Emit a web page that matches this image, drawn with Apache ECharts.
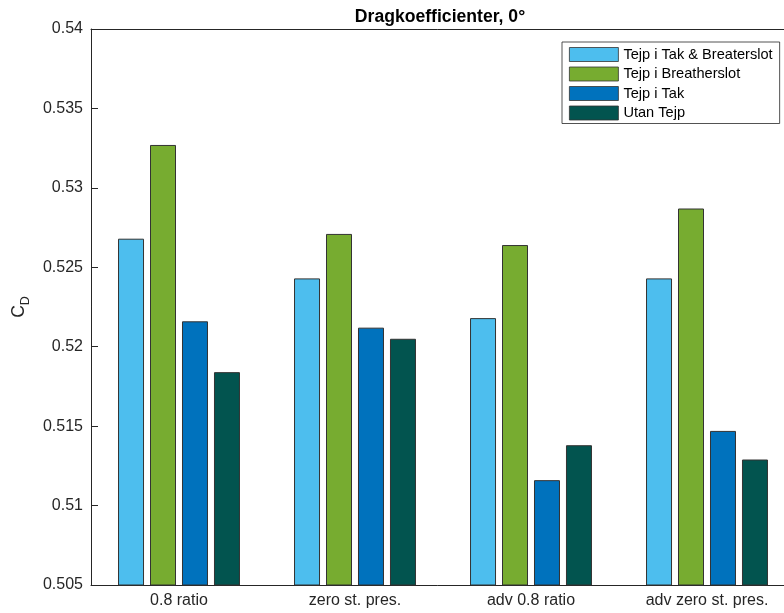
<!DOCTYPE html>
<html>
<head>
<meta charset="utf-8">
<script src="https://cdn.jsdelivr.net/npm/echarts@6/dist/echarts.min.js"></script>
<style>
  html, body { margin: 0; padding: 0; background: #fff; }
  #chart { width: 784px; height: 613px; }
</style>
</head>
<body>
<div id="chart"></div>
<script>
// Drag coefficient per pressure configuration, four tape variants
const categories = ['0.8 ratio', 'zero st. pres.', 'adv 0.8 ratio', 'adv zero st. pres.'];
const seriesNames = ['Tejp i Tak & Breaterslot', 'Tejp i Breatherslot', 'Tejp i Tak', 'Utan Tejp'];
const tejpTakBreaterslot = [0.5268, 0.5243, 0.5218, 0.5243];
const tejpBreatherslot   = [0.5327, 0.5271, 0.5264, 0.5287];
const tejpTak            = [0.5216, 0.5212, 0.5116, 0.5147];
const utanTejp           = [0.5184, 0.5205, 0.5138, 0.5129];
const yTickLabels = ['0.505', '0.51', '0.515', '0.52', '0.525', '0.53', '0.535', '0.54'];

const seriesValues = [tejpTakBreaterslot, tejpBreatherslot, tejpTak, utanTejp];
const colors = ['#4DBEEE', '#77AC30', '#0072BD', '#02544F'];
const ink = '#262626';
const font = 'Helvetica, "Liberation Sans", Arial, sans-serif';

const chart = echarts.init(document.getElementById('chart'), null, { renderer: 'canvas' });

chart.setOption({
  animation: false,
  backgroundColor: '#fff',
  textStyle: { fontFamily: font },
  title: {
    text: 'Dragkoefficienter, 0°',
    left: 440,
    top: 8,
    padding: 0,
    textAlign: 'center',
    textStyle: { fontSize: 17.6, fontWeight: 'bold', color: '#000', fontFamily: font }
  },
  legend: {
    data: seriesNames,
    orient: 'vertical',
    left: 562,
    top: 42,
    padding: [5, 7, 3, 7],
    itemWidth: 49,
    itemHeight: 14,
    itemGap: 4.5,
    backgroundColor: '#fff',
    borderColor: ink,
    borderWidth: 0.8,
    borderRadius: 0,
    icon: 'rect',
    itemStyle: { borderWidth: 0.8 },
    textStyle: { fontSize: 14.6, color: '#000', fontFamily: font, lineHeight: 14, height: 14 }
  },
  grid: { left: 91, top: 29, width: 704, height: 556, containLabel: false, outerBoundsMode: 'none' },
  xAxis: [
    {
      type: 'category',
      data: categories,
      position: 'bottom',
      axisLine: { lineStyle: { color: ink, width: 1 } },
      axisTick: { inside: true, length: 6, alignWithLabel: true, lineStyle: { color: ink } },
      axisLabel: { fontSize: 16, color: ink, margin: 8, fontFamily: font },
      splitLine: { show: false }
    },
    {
      type: 'category',
      data: categories,
      position: 'top',
      axisLine: { lineStyle: { color: ink, width: 1 } },
      axisTick: { inside: true, length: 6, alignWithLabel: true, lineStyle: { color: ink } },
      axisLabel: { show: false },
      splitLine: { show: false }
    }
  ],
  yAxis: {
    type: 'value',
    min: 0.505,
    max: 0.54,
    interval: 0.005,
    axisLine: { show: true, lineStyle: { color: ink, width: 1 } },
    axisTick: { show: true, inside: true, length: 7, lineStyle: { color: ink } },
    axisLabel: {
      fontSize: 16, color: ink, margin: 8, fontFamily: font,
      formatter: (v) => yTickLabels[Math.round((v - 0.505) / 0.005)]
    },
    splitLine: { show: false },
    name: '{c|C}{d|D}',
    nameLocation: 'middle',
    nameRotate: 90,
    nameGap: 58,
    nameTextStyle: {
      color: ink,
      rich: {
        c: { fontSize: 17.6, color: ink, fontFamily: font, verticalAlign: 'bottom', lineHeight: 22 },
        d: { fontSize: 12.5, color: ink, fontFamily: font, verticalAlign: 'bottom', lineHeight: 14, padding: [0, 0, -4, 0] }
      }
    }
  },
  series: seriesNames.map((name, i) => ({
    name,
    type: 'bar',
    xAxisIndex: 0,
    data: seriesValues[i],
    barWidth: 26,
    barGap: '23%',
    itemStyle: { color: colors[i], borderColor: '#333', borderWidth: 1 }
  }))
});
</script>
</body>
</html>
